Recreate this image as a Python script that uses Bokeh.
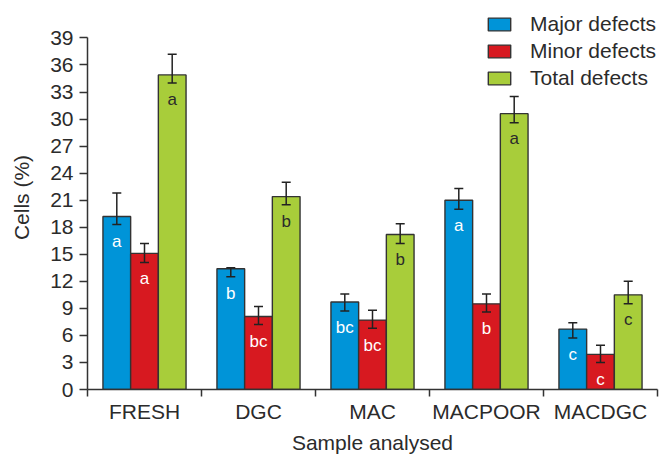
from bokeh.plotting import figure
from bokeh.models import ColumnDataSource, FixedTicker, Whisker, TeeHead, Range1d
from bokeh.embed import file_html
from bokeh.resources import INLINE

# Sample groups and measured percentages of abnormal cells
categories = ["FRESH", "DGC", "MAC", "MACPOOR", "MACDGC"]

major = [19.2, 13.4, 9.7, 21.0, 6.7]
major_upper = [21.8, 13.5, 10.6, 22.3, 7.4]
major_lower = [18.3, 12.5, 8.7, 20.0, 5.7]
major_letters = ["a", "b", "bc", "a", "c"]

minor = [15.1, 8.1, 7.7, 9.5, 3.9]
minor_upper = [16.2, 9.2, 8.8, 10.6, 4.9]
minor_lower = [14.1, 7.2, 6.8, 8.6, 3.0]
minor_letters = ["a", "bc", "bc", "b", "c"]

total = [34.9, 21.4, 17.2, 30.6, 10.5]
total_upper = [37.2, 23.0, 18.4, 32.5, 12.0]
total_lower = [34.0, 20.5, 16.2, 29.6, 9.5]
total_letters = ["a", "b", "b", "a", "c"]

y_ticks = list(range(0, 40, 3))

FONT = "Liberation Sans"
TEXT = "#2b2b2b"
EDGE = "#333333"
BAR_W = 0.243

# headroom above 39 leaves space for the legend; the axis line stops at 39
p = figure(width=659, height=456, output_backend="svg", toolbar_location=None,
           x_range=Range1d(0, 5), y_range=Range1d(0, 42.6),
           min_border_left=87, min_border_right=2, min_border_top=5,
           min_border_bottom=67)
p.outline_line_color = None
p.xgrid.visible = False
p.ygrid.visible = False
p.background_fill_color = "white"

series = [
    ("Major defects", major, major_upper, major_lower, major_letters, "#0094d8", "white", -BAR_W),
    ("Minor defects", minor, minor_upper, minor_lower, minor_letters, "#d71920", "white", 0.0),
    ("Total defects", total, total_upper, total_lower, total_letters, "#a8cd3a", TEXT, BAR_W),
]

for name, vals, up, lo, letters, color, lab_color, off in series:
    xs = [i + 0.5 + off for i in range(len(categories))]
    src = ColumnDataSource(dict(x=xs, top=vals, upper=up, lower=lo, letter=letters))
    p.vbar(x="x", top="top", width=BAR_W, bottom=0, source=src,
           fill_color=color, line_color=EDGE, line_width=1.4, legend_label=name)
    w = Whisker(base="x", upper="upper", lower="lower", source=src,
                line_color="#222222", line_width=1.5, level="overlay",
                upper_head=TeeHead(size=9, line_color="#222222", line_width=1.5),
                lower_head=TeeHead(size=9, line_color="#222222", line_width=1.5))
    p.add_layout(w)
    p.text(x="x", y="top", text="letter", source=src, text_align="center",
           text_baseline="middle", y_offset=25, text_color=lab_color,
           text_font_size="17px", text_font={"value": FONT})

# y axis
ya = p.yaxis[0]
ya.ticker = FixedTicker(ticks=y_ticks)
ya.bounds = (0, 39)
ya.axis_line_color = EDGE
ya.axis_line_width = 1.5
ya.major_tick_line_color = EDGE
ya.major_tick_line_width = 1.5
ya.major_tick_out = 8
ya.major_tick_in = 0
ya.minor_tick_line_color = None
ya.major_label_standoff = 6
ya.major_label_text_font = FONT
ya.major_label_text_font_size = "21px"
ya.major_label_text_color = TEXT
ya.axis_label = "Cells (%)"
ya.axis_label_text_font = FONT
ya.axis_label_text_font_size = "21px"
ya.axis_label_text_font_style = "normal"
ya.axis_label_text_color = TEXT
ya.axis_label_standoff = 14

# x axis: category names centred, ticks at group boundaries
xa = p.xaxis[0]
xa.ticker = FixedTicker(ticks=[i + 0.5 for i in range(len(categories))],
                        minor_ticks=list(range(len(categories) + 1)))
xa.major_label_overrides = {i + 0.5: c for i, c in enumerate(categories)}
xa.axis_line_color = EDGE
xa.axis_line_width = 1.5
xa.major_tick_line_color = None
xa.major_tick_out = 0
xa.major_tick_in = 0
xa.minor_tick_line_color = EDGE
xa.minor_tick_line_width = 1.5
xa.minor_tick_out = 7
xa.minor_tick_in = 0
xa.major_label_standoff = 3
xa.major_label_text_font = FONT
xa.major_label_text_font_size = "21px"
xa.major_label_text_color = TEXT
xa.axis_label = "Sample analysed"
xa.axis_label_text_font = FONT
xa.axis_label_text_font_size = "21px"
xa.axis_label_text_font_style = "normal"
xa.axis_label_text_color = TEXT
xa.axis_label_standoff = 5

lg = p.legend[0]
lg.location = (398, 299)
lg.border_line_color = None
lg.background_fill_alpha = 0
lg.padding = 0
lg.margin = 0
lg.spacing = 3
lg.glyph_width = 28
lg.glyph_height = 16
lg.label_height = 20
lg.label_standoff = 17
lg.label_text_font = FONT
lg.label_text_font_size = "21px"
lg.label_text_color = TEXT

open("out.html", "w").write(file_html(p, INLINE))
